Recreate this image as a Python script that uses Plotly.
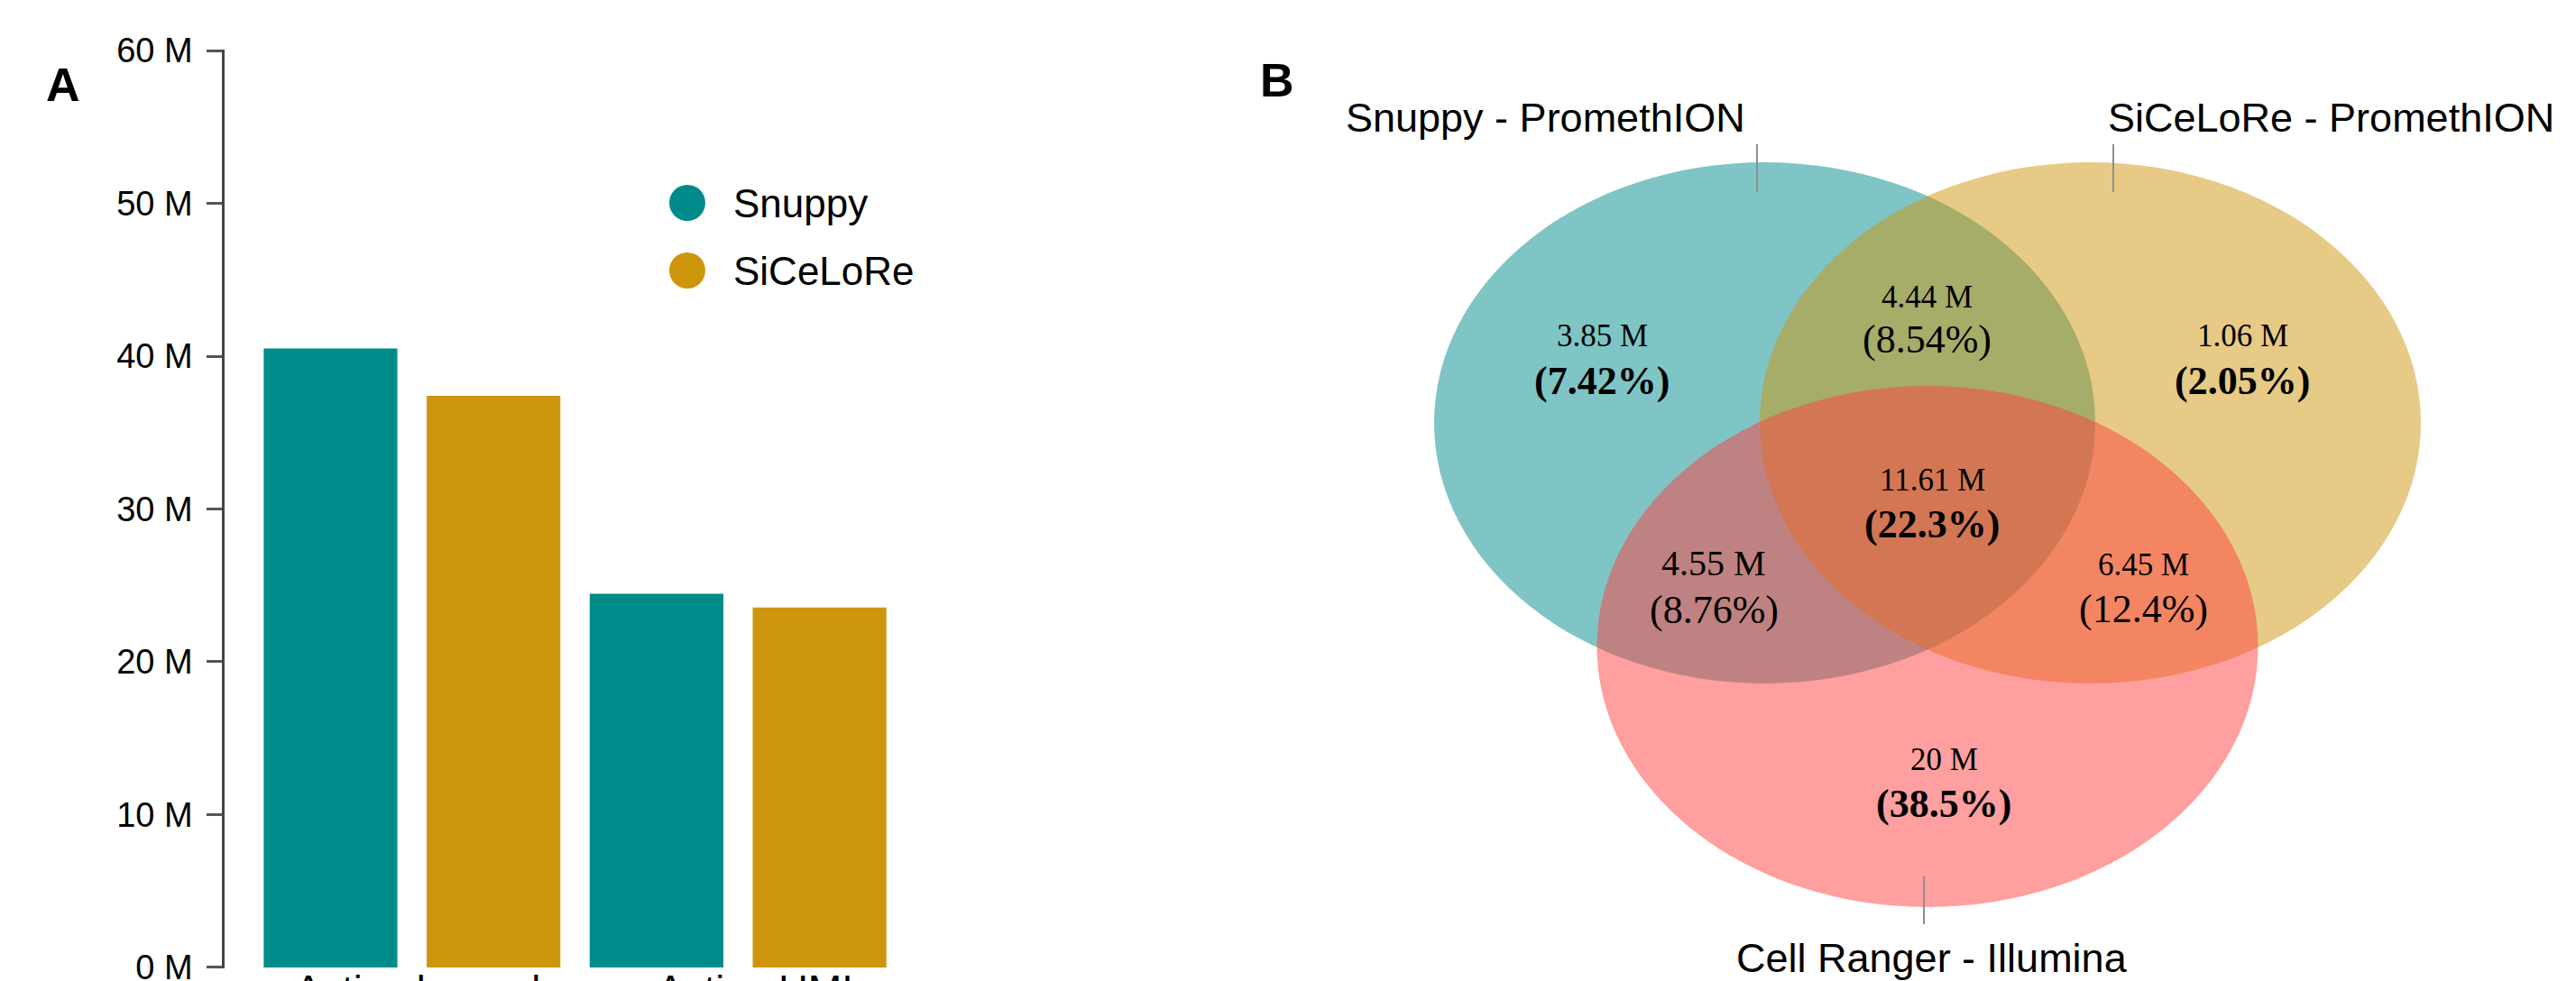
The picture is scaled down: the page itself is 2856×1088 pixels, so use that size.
import plotly.graph_objects as go

W, H = 2856, 1088

# ---------------- data ----------------
categories = ["Active barcodes", "Active UMIs"]
snuppy_vals = [40.5, 24.45]      # millions
siceloRe_vals = [37.4, 23.56]    # millions
series_names = ["Snuppy", "SiCeLoRe"]
series_colors = ["#008B8B", "#CD950C"]
y_ticks = [0, 10, 20, 30, 40, 50, 60]
y_tick_text = ["0 M", "10 M", "20 M", "30 M", "40 M", "50 M", "60 M"]

set_names = ["Snuppy - PromethION", "SiCeLoRe - PromethION", "Cell Ranger - Illumina"]
set_colors = ["#008B8B", "#CD950C", "#FF4040"]
region_counts = ["3.85 M", "4.44 M", "1.06 M", "11.61 M", "4.55 M", "6.45 M", "20 M"]
region_pcts = ["(7.42%)", "(8.54%)", "(2.05%)", "(22.3%)", "(8.76%)", "(12.4%)", "(38.5%)"]
region_bold = [True, False, True, True, False, False, True]

# ---------------- layout geometry (pixels) ----------------
circle_cx = [1956.5, 2317.5, 2137]
circle_cy = [469, 469, 717]
circle_rx = 366.5
circle_ry = 289
region_x = [1776, 2136, 2486, 2142, 1900, 2376, 2155]
region_count_y = [372, 329, 372, 532, 624, 626, 842]
region_pct_y = [422, 376, 422, 581, 676, 675, 891]
region_count_size = [35, 35, 35, 35, 40, 35, 35]

fig = go.Figure()

for name, vals, col in zip(series_names, [snuppy_vals, siceloRe_vals], series_colors):
    fig.add_trace(go.Bar(x=categories, y=vals, name=name, marker=dict(color=col, line=dict(width=0)),
                         showlegend=False, xaxis="x", yaxis="y"))

# legend markers on pixel overlay axis
leg_x = [762, 762]
leg_y = [225, 300]
fig.add_trace(go.Scatter(x=leg_x, y=leg_y, mode="markers",
                         marker=dict(size=40, color=series_colors, line=dict(width=0)),
                         showlegend=False, xaxis="x2", yaxis="y2", hoverinfo="skip"))

def px(x):
    return x / W

def py(y):
    return 1 - y / H

shapes = []
for cx, cy, col in zip(circle_cx, circle_cy, set_colors):
    shapes.append(dict(type="circle", xref="x2", yref="y2",
                       x0=cx - circle_rx, x1=cx + circle_rx, y0=cy - circle_ry, y1=cy + circle_ry,
                       fillcolor=col, opacity=0.5, line=dict(width=0), layer="above"))
# connectors
for (lx, ly0, ly1) in [(1948, 160, 213), (2343, 160, 213), (2133, 972, 1025)]:
    shapes.append(dict(type="line", xref="x2", yref="y2", x0=lx, x1=lx, y0=ly0, y1=ly1,
                       line=dict(color="#8f8f8f", width=2)))

annotations = []
sans = "Liberation Sans, Arial, sans-serif"
serif = "Liberation Serif, Times New Roman, serif"

def ann(x, y, text, family, size, xanchor="center"):
    annotations.append(dict(x=px(x), y=py(y), xref="paper", yref="paper", text=text,
                            xanchor=xanchor, yanchor="middle", showarrow=False,
                            font=dict(family=family, size=size, color="black")))

ann(70, 94, "<b>A</b>", sans, 52)
ann(1416, 89, "<b>B</b>", sans, 52)

# legend texts
for name, ly in zip(series_names, leg_y):
    ann(811, ly, name, sans, 44, "left")

# set labels
ann(1937, 131, set_names[0], sans, 45, "right")
ann(2335, 131, set_names[1], sans, 45, "left")
ann(2142, 1062, set_names[2], sans, 45, "center")

for i in range(len(region_counts)):
    ann(region_x[i], region_count_y[i], region_counts[i], serif, region_count_size[i])
    t = region_pcts[i]
    if region_bold[i]:
        t = "<b>" + t + "</b>"
    ann(region_x[i], region_pct_y[i], t, serif, 44)

fig.update_layout(
    width=W, height=H, template="none",
    margin=dict(l=0, r=0, t=0, b=0),
    paper_bgcolor="white", plot_bgcolor="rgba(0,0,0,0)",
    barmode="group", bargap=0, bargroupgap=0.18,
    showlegend=False,
    xaxis=dict(domain=[px(249), px(999)], range=[-0.575, 1.5], anchor="y",
               showline=False, showgrid=False, zeroline=False, ticks="",
               ticklabeloverflow="allow", ticklabelstandoff=-7, ticklabelshift=30,
               tickfont=dict(family=sans, size=45, color="black"), automargin=False),
    yaxis=dict(domain=[py(1074), py(55)], range=[-0.06, 60.06], anchor="x",
               tickmode="array", tickvals=y_ticks, ticktext=y_tick_text,
               showline=True, linecolor="#444444", linewidth=2.5,
               ticks="outside", ticklen=17, tickwidth=3, tickcolor="#555555",
               showgrid=False, zeroline=False, ticklabelstandoff=8,
               ticklabeloverflow="allow",
               tickfont=dict(family=sans, size=38, color="black"), automargin=False),
    xaxis2=dict(domain=[0, 1], range=[0, W], anchor="y2", visible=False, fixedrange=True),
    yaxis2=dict(domain=[0, 1], range=[H, 0], anchor="x2", visible=False, fixedrange=True),
    shapes=shapes,
    annotations=annotations,
)

fig.write_html("out.html", config={"displayModeBar": False},
               post_script="document.body.style.margin='0';")
